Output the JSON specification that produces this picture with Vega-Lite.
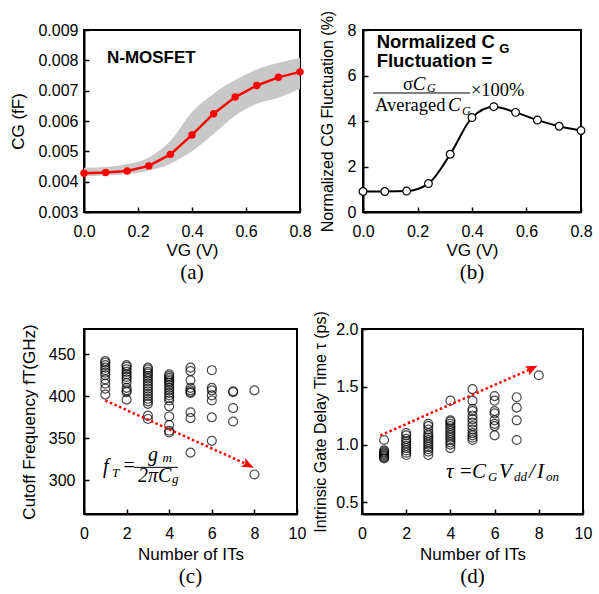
{
  "$schema": "https://vega.github.io/schema/vega-lite/v6.json",
  "background": "white",
  "padding": {"left": 8, "top": 9, "right": 5, "bottom": 0},
  "config": {
    "view": {"stroke": "black", "strokeWidth": 2},
    "font": "Liberation Sans",
    "axis": {
      "grid": false,
      "domainColor": "black",
      "domainWidth": 2,
      "tickColor": "black",
      "tickWidth": 1.5,
      "tickSize": -5,
      "labelColor": "black",
      "titleColor": "black",
      "labelFont": "Liberation Sans",
      "titleFont": "Liberation Sans",
      "labelFontSize": 16,
      "titleFontSize": 17,
      "titleFontWeight": "normal",
      "labelOverlap": false,
      "labelFlush": false
    },
    "axisX": {"labelPadding": 16, "titlePadding": 3},
    "title": {"font": "Liberation Serif", "fontSize": 21, "fontWeight": "normal", "orient": "bottom", "anchor": "middle", "offset": 4, "color": "black"}
  },
  "datasets": {
    "aband": [
      {"vg": 0.0, "lo": 0.00418, "hi": 0.00446},
      {"vg": 0.08, "lo": 0.0042, "hi": 0.00448},
      {"vg": 0.16, "lo": 0.00425, "hi": 0.00458},
      {"vg": 0.24, "lo": 0.00436, "hi": 0.0048},
      {"vg": 0.32, "lo": 0.00459, "hi": 0.00535},
      {"vg": 0.4, "lo": 0.005, "hi": 0.0063},
      {"vg": 0.48, "lo": 0.00557, "hi": 0.0069},
      {"vg": 0.56, "lo": 0.00617, "hi": 0.00735},
      {"vg": 0.64, "lo": 0.00657, "hi": 0.0077},
      {"vg": 0.72, "lo": 0.00677, "hi": 0.00792},
      {"vg": 0.8, "lo": 0.00706, "hi": 0.00808}
    ],
    "acg": [
      {"vg": 0.0, "cg": 0.00428},
      {"vg": 0.08, "cg": 0.0043},
      {"vg": 0.16, "cg": 0.00435},
      {"vg": 0.24, "cg": 0.00452},
      {"vg": 0.32, "cg": 0.0049},
      {"vg": 0.4, "cg": 0.00554},
      {"vg": 0.48, "cg": 0.00624},
      {"vg": 0.56, "cg": 0.00679},
      {"vg": 0.64, "cg": 0.00717},
      {"vg": 0.72, "cg": 0.00744},
      {"vg": 0.8, "cg": 0.00762}
    ],
    "bfl": [
      {"vg": 0.0, "fl": 0.9},
      {"vg": 0.08, "fl": 0.9},
      {"vg": 0.16, "fl": 0.92},
      {"vg": 0.24, "fl": 1.25},
      {"vg": 0.32, "fl": 2.54},
      {"vg": 0.4, "fl": 4.15},
      {"vg": 0.48, "fl": 4.63},
      {"vg": 0.56, "fl": 4.38},
      {"vg": 0.64, "fl": 4.04},
      {"vg": 0.72, "fl": 3.77},
      {"vg": 0.8, "fl": 3.58}
    ],
    "cft": [
      {"n": 1, "f": 442}, {"n": 1, "f": 440}, {"n": 1, "f": 437}, {"n": 1, "f": 434}, {"n": 1, "f": 431}, {"n": 1, "f": 428}, {"n": 1, "f": 425}, {"n": 1, "f": 420}, {"n": 1, "f": 415}, {"n": 1, "f": 409}, {"n": 1, "f": 402},
      {"n": 2, "f": 437}, {"n": 2, "f": 435}, {"n": 2, "f": 432}, {"n": 2, "f": 429}, {"n": 2, "f": 426}, {"n": 2, "f": 423}, {"n": 2, "f": 420}, {"n": 2, "f": 416}, {"n": 2, "f": 410}, {"n": 2, "f": 407}, {"n": 2, "f": 405}, {"n": 2, "f": 396},
      {"n": 3, "f": 434}, {"n": 3, "f": 432}, {"n": 3, "f": 429}, {"n": 3, "f": 427}, {"n": 3, "f": 424}, {"n": 3, "f": 421}, {"n": 3, "f": 418}, {"n": 3, "f": 415}, {"n": 3, "f": 412}, {"n": 3, "f": 409}, {"n": 3, "f": 406}, {"n": 3, "f": 403}, {"n": 3, "f": 400}, {"n": 3, "f": 397}, {"n": 3, "f": 394}, {"n": 3, "f": 391}, {"n": 3, "f": 377}, {"n": 3, "f": 373},
      {"n": 4, "f": 426}, {"n": 4, "f": 424}, {"n": 4, "f": 422}, {"n": 4, "f": 420}, {"n": 4, "f": 418}, {"n": 4, "f": 416}, {"n": 4, "f": 413}, {"n": 4, "f": 410}, {"n": 4, "f": 407}, {"n": 4, "f": 404}, {"n": 4, "f": 401}, {"n": 4, "f": 398}, {"n": 4, "f": 395}, {"n": 4, "f": 388}, {"n": 4, "f": 376}, {"n": 4, "f": 366}, {"n": 4, "f": 359}, {"n": 4, "f": 357},
      {"n": 5, "f": 434}, {"n": 5, "f": 430}, {"n": 5, "f": 419}, {"n": 5, "f": 410}, {"n": 5, "f": 407}, {"n": 5, "f": 405}, {"n": 5, "f": 404}, {"n": 5, "f": 381}, {"n": 5, "f": 374}, {"n": 5, "f": 333},
      {"n": 6, "f": 431}, {"n": 6, "f": 410}, {"n": 6, "f": 407}, {"n": 6, "f": 401}, {"n": 6, "f": 395}, {"n": 6, "f": 375}, {"n": 6, "f": 347},
      {"n": 7, "f": 406}, {"n": 7, "f": 405}, {"n": 7, "f": 386}, {"n": 7, "f": 370},
      {"n": 8, "f": 407}, {"n": 8, "f": 307}
    ],
    "dtau": [
      {"n": 1, "t": 1.04}, {"n": 1, "t": 0.95}, {"n": 1, "t": 0.94}, {"n": 1, "t": 0.93}, {"n": 1, "t": 0.92}, {"n": 1, "t": 0.91}, {"n": 1, "t": 0.9}, {"n": 1, "t": 0.89}, {"n": 1, "t": 0.88},
      {"n": 2, "t": 1.1}, {"n": 2, "t": 1.08}, {"n": 2, "t": 1.05}, {"n": 2, "t": 1.03}, {"n": 2, "t": 1.01}, {"n": 2, "t": 0.99}, {"n": 2, "t": 0.97}, {"n": 2, "t": 0.95}, {"n": 2, "t": 0.93}, {"n": 2, "t": 0.91},
      {"n": 3, "t": 1.18}, {"n": 3, "t": 1.16}, {"n": 3, "t": 1.13}, {"n": 3, "t": 1.1}, {"n": 3, "t": 1.08}, {"n": 3, "t": 1.06}, {"n": 3, "t": 1.04}, {"n": 3, "t": 1.02}, {"n": 3, "t": 1.0}, {"n": 3, "t": 0.98}, {"n": 3, "t": 0.96}, {"n": 3, "t": 0.94}, {"n": 3, "t": 0.91},
      {"n": 4, "t": 1.38}, {"n": 4, "t": 1.21}, {"n": 4, "t": 1.2}, {"n": 4, "t": 1.18}, {"n": 4, "t": 1.16}, {"n": 4, "t": 1.14}, {"n": 4, "t": 1.12}, {"n": 4, "t": 1.1}, {"n": 4, "t": 1.08}, {"n": 4, "t": 1.06}, {"n": 4, "t": 1.04}, {"n": 4, "t": 1.02}, {"n": 4, "t": 1.0}, {"n": 4, "t": 0.97},
      {"n": 5, "t": 1.48}, {"n": 5, "t": 1.38}, {"n": 5, "t": 1.31}, {"n": 5, "t": 1.29}, {"n": 5, "t": 1.25}, {"n": 5, "t": 1.22}, {"n": 5, "t": 1.19}, {"n": 5, "t": 1.16}, {"n": 5, "t": 1.13}, {"n": 5, "t": 1.1}, {"n": 5, "t": 1.08}, {"n": 5, "t": 1.06}, {"n": 5, "t": 1.04},
      {"n": 6, "t": 1.42}, {"n": 6, "t": 1.38}, {"n": 6, "t": 1.29}, {"n": 6, "t": 1.27}, {"n": 6, "t": 1.21}, {"n": 6, "t": 1.18}, {"n": 6, "t": 1.16}, {"n": 6, "t": 1.08},
      {"n": 7, "t": 1.41}, {"n": 7, "t": 1.32}, {"n": 7, "t": 1.21}, {"n": 7, "t": 1.04},
      {"n": 8, "t": 1.6}
    ]
  },
  "vconcat": [
    {
      "bounds": "flush",
      "spacing": 63,
      "hconcat": [
        {
          "width": 216,
          "height": 182,
          "title": "(a)",
          "layer": [
            {
              "data": {"name": "aband"},
              "mark": {"type": "area", "color": "#c8c8c8", "interpolate": "monotone"},
              "encoding": {
                "x": {"field": "vg", "type": "quantitative", "scale": {"domain": [0, 0.8]}, "axis": {"values": [0, 0.2, 0.4, 0.6, 0.8], "tickCount": 20, "format": ".1f", "title": "VG (V)"}},
                "y": {"field": "lo", "type": "quantitative", "scale": {"domain": [0.003, 0.009]}, "axis": {"values": [0.003, 0.004, 0.005, 0.006, 0.007, 0.008, 0.009], "tickCount": 20, "format": ".3f", "title": "CG (fF)", "labelPadding": 11, "titlePadding": 10}},
                "y2": {"field": "hi"}
              }
            },
            {
              "data": {"name": "acg"},
              "mark": {"type": "line", "color": "#ff0000", "strokeWidth": 2.5, "point": {"filled": true, "color": "#ff0000", "size": 55}},
              "encoding": {
                "x": {"field": "vg", "type": "quantitative"},
                "y": {"field": "cg", "type": "quantitative"}
              }
            },
            {
              "data": {"values": [{"x": 0.085, "y": 0.00808, "t": "N-MOSFET"}]},
              "mark": {"type": "text", "align": "left", "baseline": "middle", "fontWeight": "bold", "fontSize": 17, "font": "Liberation Sans", "color": "black"},
              "encoding": {
                "x": {"field": "x", "type": "quantitative"},
                "y": {"field": "y", "type": "quantitative"},
                "text": {"field": "t"}
              }
            }
          ]
        },
        {
          "width": 218,
          "height": 182,
          "title": "(b)",
          "layer": [
            {
              "data": {"name": "bfl"},
              "mark": {"type": "line", "color": "black", "strokeWidth": 2, "interpolate": "monotone", "point": {"filled": true, "fill": "white", "stroke": "black", "strokeWidth": 1.2, "size": 60}},
              "encoding": {
                "x": {"field": "vg", "type": "quantitative", "scale": {"domain": [0, 0.8]}, "axis": {"values": [0, 0.2, 0.4, 0.6, 0.8], "tickCount": 20, "format": ".1f", "title": "VG (V)"}},
                "y": {"field": "fl", "type": "quantitative", "scale": {"domain": [0, 8]}, "axis": {"values": [0, 2, 4, 6, 8], "tickCount": 20, "format": "d", "title": "Normalized CG Fluctuation (%)", "titleFontSize": 16, "labelPadding": 12, "titlePadding": 12}}
              }
            },
            {
              "data": {"values": [{"x": 0.05, "y": 7.2, "t": "Normalized C"}, {"x": 0.05, "y": 6.356, "t": "Fluctuation ="}]},
              "mark": {"type": "text", "align": "left", "baseline": "alphabetic", "fontWeight": "bold", "fontSize": 18.5, "font": "Liberation Sans", "color": "black"},
              "encoding": {"x": {"field": "x", "type": "quantitative"}, "y": {"field": "y", "type": "quantitative"}, "text": {"field": "t"}}
            },
            {
              "data": {"values": [{"x": 0.5, "y": 6.97, "t": "G"}]},
              "mark": {"type": "text", "align": "left", "baseline": "alphabetic", "fontWeight": "bold", "fontSize": 13, "font": "Liberation Sans", "color": "black"},
              "encoding": {"x": {"field": "x", "type": "quantitative"}, "y": {"field": "y", "type": "quantitative"}, "text": {"field": "t"}}
            },
            {
              "data": {"values": [{"x": 0.147, "y": 5.362, "t": "σ"}, {"x": 0.044, "y": 4.42, "t": "Averaged"}, {"x": 0.396, "y": 5.081, "t": "×100%"}]},
              "mark": {"type": "text", "align": "left", "baseline": "alphabetic", "fontSize": 18.5, "font": "Liberation Serif", "color": "black"},
              "encoding": {"x": {"field": "x", "type": "quantitative"}, "y": {"field": "y", "type": "quantitative"}, "text": {"field": "t"}}
            },
            {
              "data": {"values": [{"x": 0.183, "y": 5.362, "t": "C"}, {"x": 0.312, "y": 4.42, "t": "C"}]},
              "mark": {"type": "text", "align": "left", "baseline": "alphabetic", "fontSize": 19, "fontStyle": "italic", "font": "Liberation Serif", "color": "black"},
              "encoding": {"x": {"field": "x", "type": "quantitative"}, "y": {"field": "y", "type": "quantitative"}, "text": {"field": "t"}}
            },
            {
              "data": {"values": [{"x": 0.235, "y": 5.257, "t": "G"}, {"x": 0.363, "y": 4.277, "t": "G"}]},
              "mark": {"type": "text", "align": "left", "baseline": "alphabetic", "fontSize": 12, "fontStyle": "italic", "font": "Liberation Serif", "color": "black"},
              "encoding": {"x": {"field": "x", "type": "quantitative"}, "y": {"field": "y", "type": "quantitative"}, "text": {"field": "t"}}
            },
            {
              "data": {"values": [{"x": 0.037, "x2": 0.393, "y": 5.231}]},
              "mark": {"type": "rule", "color": "black", "strokeWidth": 1},
              "encoding": {"x": {"field": "x", "type": "quantitative"}, "x2": {"field": "x2"}, "y": {"field": "y", "type": "quantitative"}}
            }
          ]
        }
      ]
    },
    {
      "bounds": "flush",
      "spacing": 65,
      "hconcat": [
        {
          "width": 213,
          "height": 185,
          "title": "(c)",
          "layer": [
            {
              "data": {"name": "cft"},
              "mark": {"type": "point", "shape": "circle", "filled": false, "color": "black", "strokeWidth": 1.2, "size": 80},
              "encoding": {
                "x": {"field": "n", "type": "quantitative", "scale": {"domain": [0, 10]}, "axis": {"values": [0, 2, 4, 6, 8, 10], "tickCount": 20, "format": "d", "title": "Number of ITs", "labelPadding": 16, "titlePadding": 5}},
                "y": {"field": "f", "type": "quantitative", "scale": {"domain": [275, 475]}, "axis": {"values": [300, 350, 400, 450], "tickCount": 20, "format": "d", "title": "Cutoff Frequency fT(GHz)", "labelPadding": 14, "titlePadding": 10}}
              }
            },
            {
              "data": {"values": [{"x": 1, "y": 395}, {"x": 7.7, "y": 318.5}]},
              "mark": {"type": "line", "color": "#ff0000", "strokeWidth": 2.5, "strokeDash": [2.5, 2.5]},
              "encoding": {"x": {"field": "x", "type": "quantitative"}, "y": {"field": "y", "type": "quantitative"}}
            },
            {
              "data": {"values": [{"x": 7.72, "y": 318}]},
              "mark": {"type": "point", "shape": "M-1,-0.8L1,0L-1,0.8L-0.6,0Z", "filled": true, "color": "#ff0000", "opacity": 1, "size": 140, "angle": 26.5},
              "encoding": {"x": {"field": "x", "type": "quantitative"}, "y": {"field": "y", "type": "quantitative"}}
            },
            {
              "data": {"values": [{"x": 0.89, "y": 308.7, "t": "f"}, {"x": 3.0, "y": 322.5, "t": "g"}, {"x": 2.54, "y": 297.9, "t": "2πC"}]},
              "mark": {"type": "text", "align": "left", "baseline": "alphabetic", "fontSize": 20, "fontStyle": "italic", "font": "Liberation Serif", "color": "black"},
              "encoding": {"x": {"field": "x", "type": "quantitative"}, "y": {"field": "y", "type": "quantitative"}, "text": {"field": "t"}}
            },
            {
              "data": {"values": [{"x": 1.85, "y": 309.8, "t": "="}]},
              "mark": {"type": "text", "align": "left", "baseline": "alphabetic", "fontSize": 20, "font": "Liberation Serif", "color": "black"},
              "encoding": {"x": {"field": "x", "type": "quantitative"}, "y": {"field": "y", "type": "quantitative"}, "text": {"field": "t"}}
            },
            {
              "data": {"values": [{"x": 1.31, "y": 304.4, "t": "T"}, {"x": 3.68, "y": 322, "t": "m"}, {"x": 4.13, "y": 296.8, "t": "g"}]},
              "mark": {"type": "text", "align": "left", "baseline": "alphabetic", "fontSize": 13, "fontStyle": "italic", "font": "Liberation Serif", "color": "black"},
              "encoding": {"x": {"field": "x", "type": "quantitative"}, "y": {"field": "y", "type": "quantitative"}, "text": {"field": "t"}}
            },
            {
              "data": {"values": [{"x": 2.35, "x2": 4.41, "y": 315.5}]},
              "mark": {"type": "rule", "color": "black", "strokeWidth": 1},
              "encoding": {"x": {"field": "x", "type": "quantitative"}, "x2": {"field": "x2"}, "y": {"field": "y", "type": "quantitative"}}
            }
          ]
        },
        {
          "width": 221,
          "height": 185,
          "title": "(d)",
          "layer": [
            {
              "data": {"name": "dtau"},
              "mark": {"type": "point", "shape": "circle", "filled": false, "color": "black", "strokeWidth": 1.2, "size": 80},
              "encoding": {
                "x": {"field": "n", "type": "quantitative", "scale": {"domain": [0, 10]}, "axis": {"values": [0, 2, 4, 6, 8, 10], "tickCount": 20, "format": "d", "title": "Number of ITs", "labelPadding": 16, "titlePadding": 5}},
                "y": {"field": "t", "type": "quantitative", "scale": {"domain": [0.5, 2.0]}, "axis": {"values": [0.5, 1.0, 1.5, 2.0], "tickCount": 20, "format": ".1f", "title": "Intrinsic Gate Delay Time τ (ps)", "titleFontSize": 16, "labelPadding": 9, "titlePadding": 7}}
              }
            },
            {
              "data": {"values": [{"x": 0.83, "y": 1.08}, {"x": 7.65, "y": 1.655}]},
              "mark": {"type": "line", "color": "#ff0000", "strokeWidth": 2.5, "strokeDash": [2.5, 2.5]},
              "encoding": {"x": {"field": "x", "type": "quantitative"}, "y": {"field": "y", "type": "quantitative"}}
            },
            {
              "data": {"values": [{"x": 7.7, "y": 1.66}]},
              "mark": {"type": "point", "shape": "M-1,-0.8L1,0L-1,0.8L-0.6,0Z", "filled": true, "color": "#ff0000", "opacity": 1, "size": 140, "angle": 334.5},
              "encoding": {"x": {"field": "x", "type": "quantitative"}, "y": {"field": "y", "type": "quantitative"}}
            },
            {
              "data": {"values": [{"x": 3.8, "y": 0.71, "t": "τ"}, {"x": 4.98, "y": 0.71, "t": "C"}, {"x": 6.2, "y": 0.71, "t": "V"}, {"x": 7.56, "y": 0.71, "t": "/"}, {"x": 7.92, "y": 0.71, "t": "I"}]},
              "mark": {"type": "text", "align": "left", "baseline": "alphabetic", "fontSize": 21, "fontStyle": "italic", "font": "Liberation Serif", "color": "black"},
              "encoding": {"x": {"field": "x", "type": "quantitative"}, "y": {"field": "y", "type": "quantitative"}, "text": {"field": "t"}}
            },
            {
              "data": {"values": [{"x": 4.43, "y": 0.71, "t": "="}]},
              "mark": {"type": "text", "align": "left", "baseline": "alphabetic", "fontSize": 21, "font": "Liberation Serif", "color": "black"},
              "encoding": {"x": {"field": "x", "type": "quantitative"}, "y": {"field": "y", "type": "quantitative"}, "text": {"field": "t"}}
            },
            {
              "data": {"values": [{"x": 5.7, "y": 0.685, "t": "G"}, {"x": 6.88, "y": 0.685, "t": "dd"}, {"x": 8.33, "y": 0.685, "t": "on"}]},
              "mark": {"type": "text", "align": "left", "baseline": "alphabetic", "fontSize": 13, "fontStyle": "italic", "font": "Liberation Serif", "color": "black"},
              "encoding": {"x": {"field": "x", "type": "quantitative"}, "y": {"field": "y", "type": "quantitative"}, "text": {"field": "t"}}
            }
          ]
        }
      ]
    }
  ],
  "spacing": 299,
  "bounds": "flush"
}
